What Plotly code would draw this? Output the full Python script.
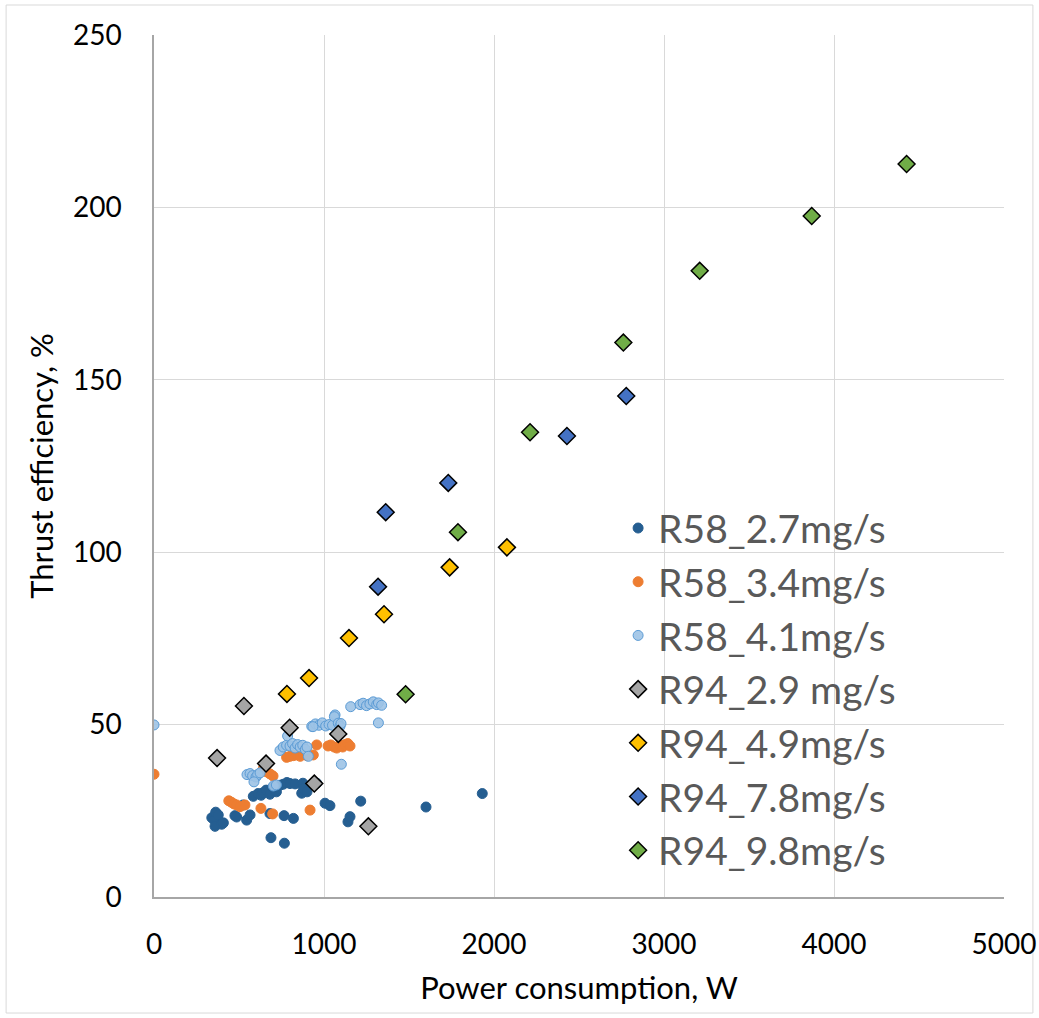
import plotly.graph_objects as go

# ---- data ----
r58_27_x = [340, 355, 359, 363, 378, 398, 408, 476, 486, 525, 545, 565, 584, 612, 630, 640, 660,
            682, 700, 720, 741, 760, 782, 800, 830, 869, 876, 880, 900, 957, 1006, 1035, 1141, 1153,
            1216, 1600, 1931, 682, 765, 820, 688, 767]
r58_27_y = [23.0, 22.3, 20.5, 24.6, 23.8, 21.1, 21.5, 23.6, 23.2, 26.7, 22.3, 23.8, 29.2, 30.0, 29.5,
            30.2, 31.0, 29.8, 31.8, 30.5, 32.4, 32.7, 33.2, 32.9, 32.8, 30.1, 33.0, 31.5, 30.5, 33.0,
            27.2, 26.5, 21.8, 23.3, 27.8, 26.1, 30.0, 24.2, 23.6, 22.8, 17.2, 15.6]

r58_34_x = [0, 440, 455, 470, 486, 506, 535, 629, 698, 918, 643, 662, 682, 700, 780, 800, 820, 840,
            860, 880, 900, 937, 957, 1024, 1040, 1060, 1075, 1094, 1110, 1125, 1140, 1153]
r58_34_y = [35.6, 27.9, 27.5, 27.0, 26.7, 26.2, 26.7, 25.7, 24.1, 25.2, 37.3, 36.3, 35.7, 35.1, 40.5,
            40.8, 41.0, 41.2, 40.8, 41.5, 41.0, 41.2, 44.1, 43.8, 44.1, 43.5, 43.2, 44.0, 43.5, 44.2,
            44.5, 43.8]

r58_41_x = [0, 547, 565, 580, 600, 610, 624, 588, 702, 720, 741, 760, 780, 786, 800, 815, 830, 845,
            860, 875, 890, 900, 908, 928, 950, 970, 990, 1010, 1030, 1050, 1065, 1061, 1084, 1094,
            1100, 1157, 1212, 1230, 1250, 1270, 1290, 1310, 1320, 1339, 1320, 1102, 935]
r58_41_y = [49.9, 35.5, 35.8, 35.2, 34.8, 35.5, 36.0, 33.4, 32.2, 32.5, 42.5, 43.5, 44.0, 46.7, 43.8,
            44.5, 43.2, 44.2, 43.5, 44.0, 42.8, 43.5, 40.8, 49.5, 50.2, 49.8, 50.5, 49.6, 50.0, 49.8,
            52.8, 52.3, 50.4, 49.5, 50.3, 55.2, 55.8, 56.2, 55.5, 56.0, 56.6, 55.8, 56.3, 55.6, 50.5,
            38.5, 49.4]

r94_29_x = [371, 529, 659, 798, 943, 1084, 1261]
r94_29_y = [40.3, 55.4, 38.7, 49.1, 32.9, 47.3, 20.5]

r94_49_x = [782, 912, 1147, 1353, 1739, 2076]
r94_49_y = [58.9, 63.5, 75.1, 82.0, 95.6, 101.4]

r94_78_x = [1318, 1363, 1731, 2429, 2778]
r94_78_y = [90.0, 111.6, 120.1, 133.7, 145.3]

r94_98_x = [1480, 1788, 2212, 2761, 3210, 3869, 4427]
r94_98_y = [58.8, 105.8, 134.8, 160.8, 181.6, 197.5, 212.6]

x_ticks = [0, 1000, 2000, 3000, 4000, 5000]
y_ticks = [0, 50, 100, 150, 200, 250]

FONT = "Lato"

fig = go.Figure()

circle_series = [
    ("R58_2.7mg/s", r58_27_x, r58_27_y, "#255E91", "#255E91"),
    ("R58_3.4mg/s", r58_34_x, r58_34_y, "#ED7D31", "#ED7D31"),
    ("R58_4.1mg/s", r58_41_x, r58_41_y, "rgba(157,195,230,0.9)", "#5B9BD5"),
]
for name, xs, ys, fill, line in circle_series:
    fig.add_trace(go.Scatter(
        x=xs, y=ys, mode="markers", name=name,
        marker=dict(symbol="circle", size=10, color=fill, line=dict(color=line, width=1)),
    ))

diamond_series = [
    ("R94_2.9 mg/s", r94_29_x, r94_29_y, "#A5A5A5"),
    ("R94_4.9mg/s", r94_49_x, r94_49_y, "#FFC000"),
    ("R94_7.8mg/s", r94_78_x, r94_78_y, "#4472C4"),
    ("R94_9.8mg/s", r94_98_x, r94_98_y, "#70AD47"),
]
for name, xs, ys, fill in diamond_series:
    fig.add_trace(go.Scatter(
        x=xs, y=ys, mode="markers", name=name,
        marker=dict(symbol="diamond", size=13, color=fill, line=dict(color="black", width=1.5)),
    ))

fig.update_layout(
    width=1039, height=1018,
    margin=dict(l=154, r=35, t=35, b=121, autoexpand=False),
    paper_bgcolor="white", plot_bgcolor="white",
    font=dict(family=FONT, color="#000000"),
    showlegend=True,
    legend=dict(
        x=0.546, y=0.465, xanchor="left", yanchor="top",
        font=dict(size=39, color="#595959", family=FONT),
        bgcolor="rgba(0,0,0,0)", itemsizing="trace",
    ),
    xaxis=dict(
        range=[0, 5000], tickvals=x_ticks, ticktext=[str(v) for v in x_ticks],
        showgrid=True, gridcolor="#D9D9D9", gridwidth=1, automargin=False,
        showline=True, linecolor="#A6A6A6", linewidth=1.5,
        zeroline=False, ticks="", ticklabelstandoff=22,
        tickfont=dict(size=28, family=FONT, color="#000000"),
        title=dict(text="Power consumption, W", font=dict(size=31, family=FONT, color="#000000"),
                   standoff=18),
    ),
    yaxis=dict(
        range=[0, 250], tickvals=y_ticks, ticktext=[str(v) for v in y_ticks],
        showgrid=True, gridcolor="#D9D9D9", gridwidth=1, automargin=False,
        showline=True, linecolor="#A6A6A6", linewidth=1.5,
        zeroline=False, ticks="", ticklabelstandoff=25,
        tickfont=dict(size=28, family=FONT, color="#000000"),
        title=dict(text="Thrust efficiency, %", font=dict(size=31, family=FONT, color="#000000"),
                   standoff=10),
    ),
    shapes=[dict(type="rect", xref="paper", yref="paper",
                 x0=-0.174, x1=1.034, y0=-0.1346, y1=1.0348,
                 line=dict(color="#D9D9D9", width=1), layer="below")],
)

fig.write_html("out.html")
